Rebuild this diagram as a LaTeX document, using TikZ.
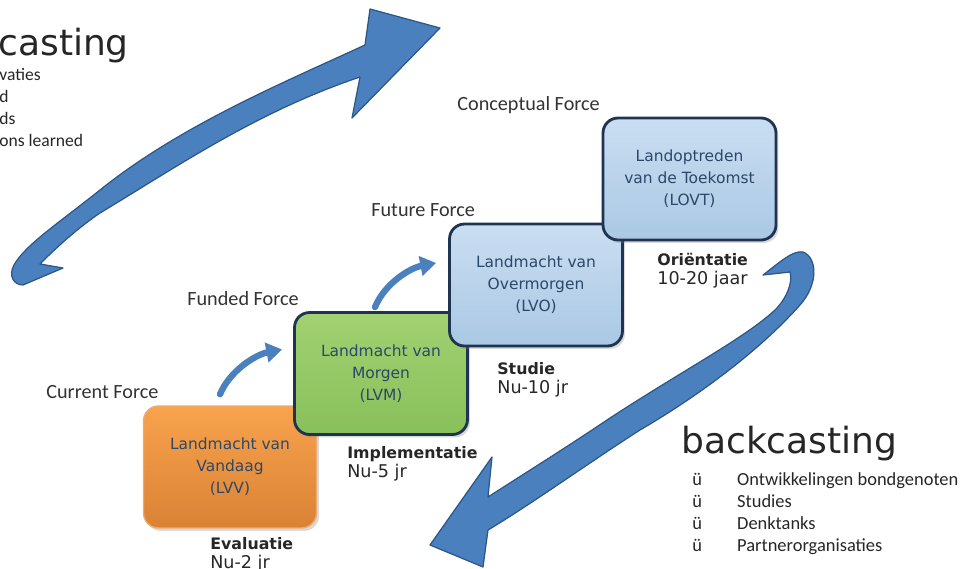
\documentclass[tikz,border=0pt]{standalone}
\usepackage{fontspec}
\setmainfont{Carlito}
\newfontfamily\verdana{DejaVu Sans}
\usetikzlibrary{arrows.meta,shadows,calc}

\definecolor{oranjeboven}{RGB}{248,163,78}
\definecolor{oranjeonder}{RGB}{218,130,52}
\definecolor{oranjerand}{RGB}{240,170,110}
\definecolor{groenboven}{RGB}{162,209,114}
\definecolor{groenonder}{RGB}{136,192,90}
\definecolor{blauwboven}{RGB}{202,222,242}
\definecolor{blauwonder}{RGB}{170,200,228}
\definecolor{boxrand}{RGB}{30,52,80}
\definecolor{boxtekst}{RGB}{44,72,104}
\definecolor{pijlblauw}{RGB}{74,128,190}
\definecolor{pijlrand}{RGB}{44,86,134}

\begin{document}
\begin{tikzpicture}[x=0.02cm, y=-0.02cm, line join=round, line cap=round,
	stapbox/.style={rounded corners=0.3cm, minimum width=3.46cm, minimum height=2.44cm, align=center, text=boxtekst, font=\verdana\fontsize{8.8}{12.5}\selectfont, drop shadow={opacity=0.3, shadow xshift=0.05cm, shadow yshift=-0.06cm}},
	donkerbox/.style={stapbox, draw=boxrand, line width=1.6pt},
	force/.style={anchor=west, inner sep=0pt, text=black!80, font=\fontsize{11.5}{13}\selectfont},
	fase/.style={anchor=north west, inner sep=0pt, align=left, text=black!85, font=\verdana\fontsize{10}{10.8}\selectfont},
	titel/.style={anchor=base west, inner sep=0pt, text=black!85, font=\verdana\fontsize{20.5}{24}\selectfont},
	lijst/.style={anchor=north west, inner sep=0pt, align=left, text=black!85, font=\fontsize{10.5}{12.5}\selectfont},
	grotepijl/.style={fill=pijlblauw, draw=pijlrand, line width=0.7pt},
	kleinepijl/.style={draw=pijlblauw, line width=3.6pt, -{Triangle[length=9pt, width=11pt]}}]

	\useasboundingbox (0,0) rectangle (960,568);

	% forecasting
	\node[titel] (forecast) at (-2,55) {casting};
	\node[lijst, font=\fontsize{10}{12.5}\selectfont] (forelijst) at (-1,68) {vaties\\d\\ds\\ons learned};
	\draw[grotepijl] (23,285) -- (63,268) -- (40,264)
		.. controls (48,256) and (72,232) .. (100,213)
		.. controls (175,168) and (256,112) .. (360,77)
		-- (352,118) -- (440,28) -- (370,9) -- (365,45)
		.. controls (285,82) and (181,125) .. (100,190)
		.. controls (60,222) and (25,245) .. (14,265)
		.. controls (8,276) and (14,285) .. (23,285) -- cycle;

	% backcasting
	\node[titel] (backcast) at (681,453) {backcasting};
	\node[lijst] (backlijst) at (692,470) {\begin{tabular}{@{}l@{\hspace{20pt}}l@{}}
		ü & Ontwikkelingen bondgenoten\\
		ü & Studies\\
		ü & Denktanks\\
		ü & Partnerorganisaties
	\end{tabular}};
	\draw[grotepijl] (803,252) .. controls (818,258) and (818,285) .. (800,305)
		.. controls (760,350) and (700,395) .. (640,430)
		.. controls (590,462) and (530,505) .. (488,530)
		-- (483,567) -- (430,545) -- (492,457) -- (488,497)
		.. controls (530,470) and (570,445) .. (607,420)
		.. controls (680,372) and (745,338) .. (775,310)
		.. controls (787,298) and (793,282) .. (790,272)
		-- (763,275) .. controls (780,262) and (793,250) .. (803,252) -- cycle;

	\node[force] (current) at (46,392) {Current Force};
	\node[force] (funded) at (187,299) {Funded Force};
	\node[force] (future) at (371,210) {Future Force};
	\node[force] (conceptual) at (457,105) {Conceptual Force};

	\node[stapbox, draw=oranjerand, line width=0.8pt, top color=oranjeboven, bottom color=oranjeonder] (lvv) at (230,467) {Landmacht van\\Vandaag\\(LVV)};
	\node[donkerbox, top color=groenboven, bottom color=groenonder] (lvm) at (381,373.5) {Landmacht van\\Morgen\\(LVM)};
	\node[donkerbox, top color=blauwboven, bottom color=blauwonder] (lvo) at (536,285) {Landmacht van\\Overmorgen\\(LVO)};
	\node[donkerbox, top color=blauwboven, bottom color=blauwonder] (lovt) at (689.5,179) {Landoptreden\\van de Toekomst\\(LOVT)};

	\node[fase] (evaluatie) at (210,537) {\textbf{\fontsize{9}{10.8}\selectfont Evaluatie}\\Nu-2 jr};
	\node[fase] (implementatie) at (347,446) {\textbf{\fontsize{9}{10.8}\selectfont Implementatie}\\Nu-5 jr};
	\node[fase] (studie) at (497,362) {\textbf{\fontsize{9}{10.8}\selectfont Studie}\\Nu-10 jr};
	\node[fase] (orientatie) at (657,252.5) {\textbf{\fontsize{9}{10.8}\selectfont Oriëntatie}\\10-20 jaar};

	\draw[kleinepijl] ($(lvv.north)+(-10,-11)$) .. controls +(10,-24) and +(-26,5) .. ($(lvm.west)+(-11,-24)$);
	\draw[kleinepijl] ($(lvm.north)+(-6,-4)$) .. controls +(10,-24) and +(-26,5) .. ($(lvo.west)+(-12,-22)$);
\end{tikzpicture}
\end{document}
